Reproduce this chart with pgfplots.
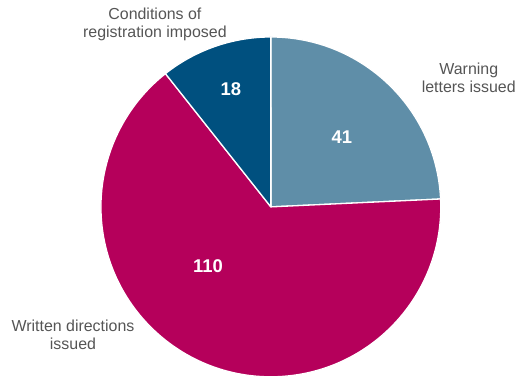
\documentclass[border=0pt]{standalone}
\usepackage{pgfplots}
\pgfplotsset{compat=1.18}
\usepackage{pgfplotstable}
\usepackage{fontspec}
\setmainfont{Liberation Sans}
\definecolor{cwarn}{HTML}{5F8EA8}
\definecolor{cwrit}{HTML}{B5005B}
\definecolor{ccond}{HTML}{00507F}
\definecolor{ctext}{HTML}{555555}
\pgfplotstableread{
label value
Warning 41
Written 110
Conditions 18
}\piedata
\begin{document}
\begin{tikzpicture}
\pgfplotstablegetelem{0}{value}\of\piedata \let\va\pgfplotsretval
\pgfplotstablegetelem{1}{value}\of\piedata \let\vb\pgfplotsretval
\pgfplotstablegetelem{2}{value}\of\piedata \let\vc\pgfplotsretval
\pgfmathsetmacro{\tot}{\va+\vb+\vc}
\pgfmathsetmacro{\aA}{90}
\pgfmathsetmacro{\aB}{90-360*(\va/\tot)}
\pgfmathsetmacro{\aC}{\aB-360*(\vb/\tot)}
\pgfmathsetmacro{\aD}{\aC-360*(\vc/\tot)}
\begin{axis}[
  hide axis, scale only axis, clip=false,
  x=1bp, y=1bp, xmin=0, xmax=519, ymin=0, ymax=378,
]
\path (axis cs:0,0) rectangle (axis cs:519,378);
\fill[cwarn, draw=white, line width=1.3bp, line join=round] (axis cs:271,171) -- ++(\aA:170bp) arc[start angle=\aA, end angle=\aB, radius=170bp] -- cycle;
\fill[cwrit, draw=white, line width=1.3bp, line join=round] (axis cs:271,171) -- ++(\aB:170bp) arc[start angle=\aB, end angle=\aC, radius=170bp] -- cycle;
\fill[ccond, draw=white, line width=1.3bp, line join=round] (axis cs:271,171) -- ++(\aC:170bp) arc[start angle=\aC, end angle=\aD, radius=170bp] -- cycle;
\node[white, font=\fontsize{18.5}{21}\selectfont\bfseries] at (axis cs:342,241) {41};
\node[white, font=\fontsize{18.5}{21}\selectfont\bfseries] at (axis cs:208,112) {110};
\node[white, font=\fontsize{18.5}{21}\selectfont\bfseries] at (axis cs:231,289) {18};
\node[ctext, align=center, font=\fontsize{16}{18}\selectfont] at (axis cs:469,300) {Warning\\letters issued};
\node[ctext, align=center, font=\fontsize{16}{18}\selectfont] at (axis cs:155,354) {Conditions of\\registration imposed};
\node[ctext, align=center, font=\fontsize{16}{19}\selectfont] at (axis cs:73,43) {Written directions\\issued};
\end{axis}
\end{tikzpicture}
\end{document}
